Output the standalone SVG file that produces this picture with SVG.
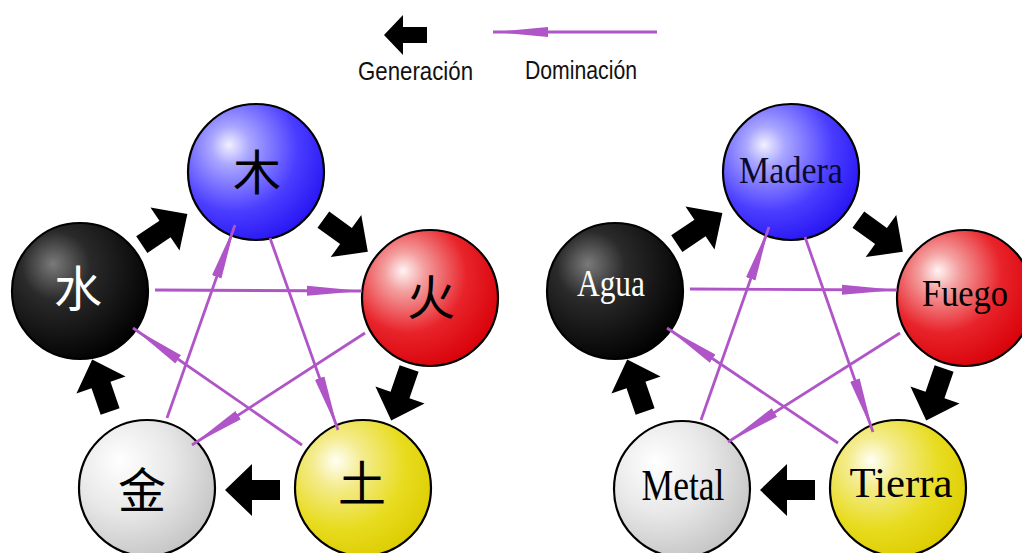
<svg xmlns="http://www.w3.org/2000/svg" width="1022" height="553" viewBox="0 0 1022 553">
<defs>
<radialGradient id="gBlue" cx="0.36" cy="0.34" r="0.72" fx="0.3" fy="0.3">
<stop offset="0" stop-color="#f2f0ff"/><stop offset="0.2" stop-color="#a9a6ff"/><stop offset="0.65" stop-color="#4a3dff"/><stop offset="1" stop-color="#2614f2"/>
</radialGradient>
<radialGradient id="gBlack" cx="0.36" cy="0.34" r="0.72" fx="0.3" fy="0.3">
<stop offset="0" stop-color="#7a7a7a"/><stop offset="0.35" stop-color="#2a2a2a"/><stop offset="1" stop-color="#000"/>
</radialGradient>
<radialGradient id="gRed" cx="0.36" cy="0.34" r="0.72" fx="0.3" fy="0.3">
<stop offset="0" stop-color="#fff4f4"/><stop offset="0.2" stop-color="#f4a0a0"/><stop offset="0.6" stop-color="#e8232a"/><stop offset="1" stop-color="#d80008"/>
</radialGradient>
<radialGradient id="gWhite" cx="0.36" cy="0.34" r="0.72" fx="0.3" fy="0.3">
<stop offset="0" stop-color="#ffffff"/><stop offset="0.5" stop-color="#e8e8e8"/><stop offset="1" stop-color="#c4c4c4"/>
</radialGradient>
<radialGradient id="gYellow" cx="0.36" cy="0.34" r="0.72" fx="0.3" fy="0.3">
<stop offset="0" stop-color="#fffff4"/><stop offset="0.25" stop-color="#f4ec90"/><stop offset="0.65" stop-color="#e8dc20"/><stop offset="1" stop-color="#dccc00"/>
</radialGradient>
<marker id="dom" markerUnits="userSpaceOnUse" markerWidth="56" markerHeight="12" viewBox="0 0 56 12" refX="55" refY="6" orient="auto">
<path d="M0,1 L55,6 L0,11 Z" fill="#b055c8"/>
</marker>
<path id="gen" d="M27,0 L0,-26 L0,-10 L-28,-10 L-28,10 L0,10 L0,26 Z"/>
<style>
.ball{stroke:#000;stroke-width:2.2}
.cjk{font-family:"Noto Sans CJK SC","Noto Sans CJK JP",sans-serif;font-size:48px;text-anchor:middle}
.lat{font-family:"Liberation Serif","DejaVu Serif",serif;text-anchor:middle}
.leg{font-family:"Liberation Sans",Arial,sans-serif;font-size:25px;fill:#111}
.domline{stroke:#b055c8;stroke-width:2.8;fill:none;marker-end:url(#dom)}
.genarrow{fill:#000}
</style>
</defs>
<rect width="1022" height="553" fill="#fff"/>

<g id="legend">
<path d="M384,35 L403,15 L403,27 L427,27 L427,43 L403,43 L403,55 Z" fill="#000"/>
<text class="leg" x="358" y="80" textLength="115" lengthAdjust="spacingAndGlyphs">Generación</text>
<line class="domline" x1="657" y1="32" x2="493" y2="32"/>
<text class="leg" x="525" y="79" textLength="112" lengthAdjust="spacingAndGlyphs">Dominación</text>
</g>

<g id="node-mu">
<circle class="ball" cx="256" cy="172" r="68" fill="url(#gBlue)"/>
<text class="cjk" x="257" y="190" fill="#000">木</text>
</g>
<g id="node-shui">
<circle class="ball" cx="80" cy="291" r="68" fill="url(#gBlack)"/>
<text class="cjk" x="78" y="306" fill="#fff">水</text>
</g>
<g id="node-huo">
<circle class="ball" cx="430" cy="298" r="68" fill="url(#gRed)"/>
<text class="cjk" x="431" y="315" fill="#000">火</text>
</g>
<g id="node-jin">
<circle class="ball" cx="147" cy="488" r="68" fill="url(#gWhite)"/>
<text class="cjk" x="142" y="508" fill="#000">金</text>
</g>
<g id="node-tu">
<circle class="ball" cx="363" cy="488" r="68" fill="url(#gYellow)"/>
<text class="cjk" x="362" y="501" fill="#000">土</text>
</g>

<g id="node-madera">
<circle class="ball" cx="791" cy="172" r="68" fill="url(#gBlue)"/>
<text class="lat" x="791" y="183" font-size="37" textLength="104" lengthAdjust="spacingAndGlyphs" fill="#0a0a30">Madera</text>
</g>
<g id="node-agua">
<circle class="ball" cx="615" cy="291" r="68" fill="url(#gBlack)"/>
<text class="lat" x="611" y="296" font-size="38" textLength="68" lengthAdjust="spacingAndGlyphs" fill="#fff">Agua</text>
</g>
<g id="node-fuego">
<circle class="ball" cx="965" cy="298" r="68" fill="url(#gRed)"/>
<text class="lat" x="965" y="306" font-size="38" textLength="86" lengthAdjust="spacingAndGlyphs" fill="#000">Fuego</text>
</g>
<g id="node-metal">
<circle class="ball" cx="682" cy="489" r="68" fill="url(#gWhite)"/>
<text class="lat" x="683" y="500" font-size="44" textLength="83" lengthAdjust="spacingAndGlyphs" fill="#000">Metal</text>
</g>
<g id="node-tierra">
<circle class="ball" cx="898" cy="488" r="68" fill="url(#gYellow)"/>
<text class="lat" x="901" y="497" font-size="42" textLength="103" lengthAdjust="spacingAndGlyphs" fill="#000">Tierra</text>
</g>

<g id="connectors">
<g class="genarrow">
<use href="#gen" transform="translate(165,229) rotate(-34)"/>
<use href="#gen" transform="translate(346,236) rotate(36)"/>
<use href="#gen" transform="translate(400,395) rotate(109)"/>
<use href="#gen" transform="translate(252,490) rotate(180)"/>
<use href="#gen" transform="translate(101,385) rotate(251)"/>
<use href="#gen" transform="translate(700,228) rotate(-34)"/>
<use href="#gen" transform="translate(881,236) rotate(36)"/>
<use href="#gen" transform="translate(935,395) rotate(109)"/>
<use href="#gen" transform="translate(787,490) rotate(180)"/>
<use href="#gen" transform="translate(636,385) rotate(251)"/>
</g>
<line class="domline" x1="155" y1="290" x2="362" y2="291"/>
<line class="domline" x1="365" y1="333" x2="192" y2="445"/>
<line class="domline" x1="167" y1="418" x2="235" y2="225"/>
<line class="domline" x1="270" y1="238" x2="338" y2="430"/>
<line class="domline" x1="302" y1="445" x2="133" y2="328"/>
<line class="domline" x1="690" y1="289" x2="897" y2="290"/>
<line class="domline" x1="900" y1="333" x2="728" y2="442"/>
<line class="domline" x1="701" y1="420" x2="769" y2="227"/>
<line class="domline" x1="805" y1="237" x2="873" y2="432"/>
<line class="domline" x1="838" y1="443" x2="667" y2="328"/>
</g>
</svg>
